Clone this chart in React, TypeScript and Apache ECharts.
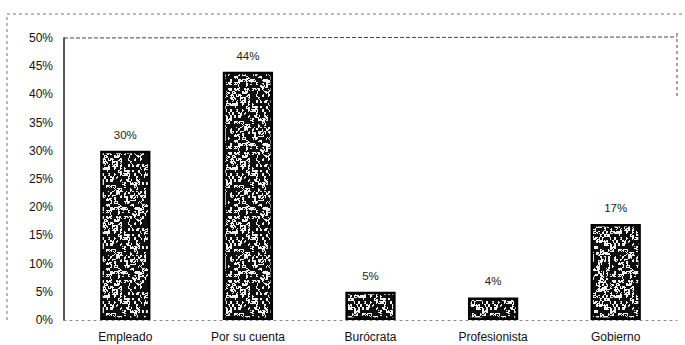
import React, { useEffect, useRef } from "react";
import * as echarts from "echarts";

const categories = ["Empleado", "Por su cuenta", "Burócrata", "Profesionista", "Gobierno"];
const values = [30, 44, 5, 4, 17];
const yTicks = [0, 5, 10, 15, 20, 25, 30, 35, 40, 45, 50];

function hash(x: number, y: number): number {
  let h = Math.imul(x + 17, 0x27d4eb2d) ^ Math.imul(y + 91, 0x165667b1);
  h = Math.imul(h ^ (h >>> 15), 0x85ebca6b);
  h = Math.imul(h ^ (h >>> 13), 0xc2b2ae35);
  h ^= h >>> 16;
  return h >>> 0;
}

function makeTexture(): HTMLCanvasElement {
  const size = 64;
  const c = document.createElement("canvas");
  c.width = size;
  c.height = size;
  const ctx = c.getContext("2d")!;
  const img = ctx.createImageData(size, size);
  for (let y = 0; y < size; y++) {
    for (let x = 0; x < size; x++) {
      const coarse = hash(Math.floor(x / 2), Math.floor(y / 3)) % 100;
      const fine = hash(x + 1000, y + 2000) % 100;
      const dark = coarse < 52 || fine < 25;
      const i = (y * size + x) * 4;
      const col = dark ? 15 : 240;
      img.data[i] = col;
      img.data[i + 1] = col;
      img.data[i + 2] = col;
      img.data[i + 3] = 255;
    }
  }
  ctx.putImageData(img, 0, 0);
  return c;
}

export default function App() {
  const ref = useRef<HTMLDivElement>(null);
  useEffect(() => {
    if (!ref.current) return;
    const chart = echarts.init(ref.current, undefined, { renderer: "svg" });
    const tex = makeTexture();
    const font = "Liberation Sans, Arial, sans-serif";
    chart.setOption({
      animation: false,
      backgroundColor: "#ffffff",
      grid: { left: 64, right: 8, top: 38, bottom: 25 },
      xAxis: {
        type: "category",
        data: categories,
        axisLine: { show: true, lineStyle: { color: "#888", type: [2, 4], width: 1 } },
        axisTick: { show: false },
        axisLabel: { color: "#111", fontSize: 12, fontFamily: font, margin: 11 },
      },
      yAxis: {
        type: "value",
        min: 0,
        max: 50,
        interval: 5,
        axisLine: { show: true, lineStyle: { color: "#222", width: 1.5 } },
        axisTick: { show: false },
        splitLine: { show: false },
        axisLabel: {
          color: "#111",
          fontSize: 12,
          fontFamily: font,
          margin: 11,
          formatter: (v: number) => (yTicks.includes(v) ? v + "%" : ""),
        },
      },
      series: [
        {
          type: "bar",
          data: values,
          barWidth: "41%",
          itemStyle: {
            color: { image: tex, repeat: "repeat", imageWidth: 64, imageHeight: 64 } as any,
            borderColor: "#000",
            borderWidth: 2.5,
          },
          label: {
            show: true,
            position: "top",
            distance: 10,
            color: "#222",
            fontSize: 11.5,
            fontFamily: font,
            formatter: (p: any) => p.value + "%",
          },
        },
      ],
      graphic: [
        {
          type: "polyline",
          shape: { points: [[7, 320], [7, 14], [682, 14]] },
          style: { stroke: "#777", lineWidth: 1, lineDash: [3, 3], fill: null },
        },
        {
          type: "line",
          shape: { x1: 64, y1: 38, x2: 677, y2: 37 },
          style: { stroke: "#444", lineWidth: 1, lineDash: [4, 2] },
        },
        {
          type: "line",
          shape: { x1: 677, y1: 33, x2: 677, y2: 97 },
          style: { stroke: "#444", lineWidth: 1, lineDash: [3, 3] },
        },
      ],
    });
    return () => chart.dispose();
  }, []);
  return (
    <div
      ref={ref}
      style={{ position: "fixed", left: 0, top: 0, width: 685, height: 345 }}
    />
  );
}
